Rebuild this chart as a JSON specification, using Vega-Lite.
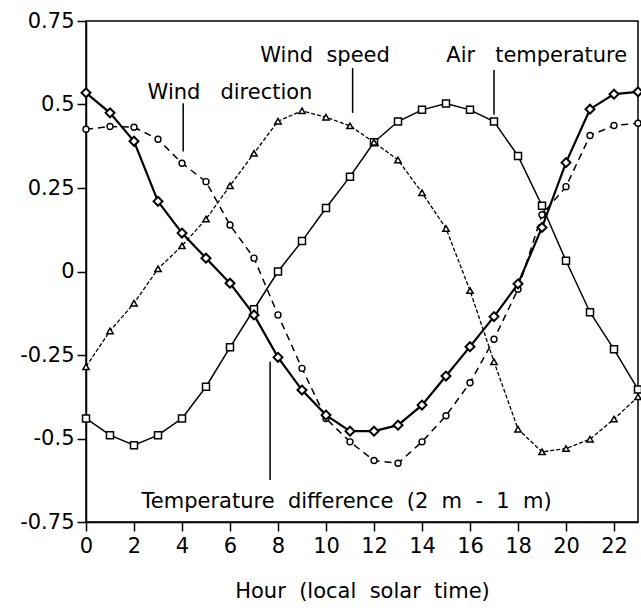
{
  "$schema": "https://vega.github.io/schema/vega-lite/v6.json",
  "autosize": "none",
  "width": 552,
  "height": 501,
  "padding": {"left": 86, "top": 21, "right": 3, "bottom": 90},
  "background": "white",
  "config": {
    "view": {"stroke": "black", "strokeWidth": 1.5},
    "font": "DejaVu Sans",
    "axis": {
      "labelFont": "DejaVu Sans", "titleFont": "DejaVu Sans",
      "labelFontSize": 21, "titleFontSize": 21, "labelColor": "black", "titleColor": "black",
      "titleFontWeight": "normal", "domainColor": "black", "domainWidth": 1.5,
      "tickColor": "black", "tickWidth": 1.5, "tickSize": 9, "grid": false, "labelFlush": false
    }
  },
  "datasets": {
    "series": [
      {"h":0,"s":"TD","v":0.535},{"h":1,"s":"TD","v":0.475},{"h":2,"s":"TD","v":0.39},{"h":3,"s":"TD","v":0.21},
      {"h":4,"s":"TD","v":0.115},{"h":5,"s":"TD","v":0.04},{"h":6,"s":"TD","v":-0.035},{"h":7,"s":"TD","v":-0.13},
      {"h":8,"s":"TD","v":-0.257},{"h":9,"s":"TD","v":-0.355},{"h":10,"s":"TD","v":-0.43},{"h":11,"s":"TD","v":-0.478},
      {"h":12,"s":"TD","v":-0.478},{"h":13,"s":"TD","v":-0.46},{"h":14,"s":"TD","v":-0.4},{"h":15,"s":"TD","v":-0.313},
      {"h":16,"s":"TD","v":-0.225},{"h":17,"s":"TD","v":-0.135},{"h":18,"s":"TD","v":-0.037},{"h":19,"s":"TD","v":0.132},
      {"h":20,"s":"TD","v":0.326},{"h":21,"s":"TD","v":0.486},{"h":22,"s":"TD","v":0.531},{"h":23,"s":"TD","v":0.538},
      {"h":0,"s":"AT","v":-0.44},{"h":1,"s":"AT","v":-0.49},{"h":2,"s":"AT","v":-0.52},{"h":3,"s":"AT","v":-0.49},
      {"h":4,"s":"AT","v":-0.44},{"h":5,"s":"AT","v":-0.345},{"h":6,"s":"AT","v":-0.227},{"h":7,"s":"AT","v":-0.113},
      {"h":8,"s":"AT","v":0.0},{"h":9,"s":"AT","v":0.091},{"h":10,"s":"AT","v":0.19},{"h":11,"s":"AT","v":0.284},
      {"h":12,"s":"AT","v":0.387},{"h":13,"s":"AT","v":0.449},{"h":14,"s":"AT","v":0.484},{"h":15,"s":"AT","v":0.503},
      {"h":16,"s":"AT","v":0.484},{"h":17,"s":"AT","v":0.449},{"h":18,"s":"AT","v":0.346},{"h":19,"s":"AT","v":0.197},
      {"h":20,"s":"AT","v":0.032},{"h":21,"s":"AT","v":-0.122},{"h":22,"s":"AT","v":-0.233},{"h":23,"s":"AT","v":-0.353},
      {"h":0,"s":"WS","v":-0.285},{"h":1,"s":"WS","v":-0.178},{"h":2,"s":"WS","v":-0.095},{"h":3,"s":"WS","v":0.008},
      {"h":4,"s":"WS","v":0.077},{"h":5,"s":"WS","v":0.157},{"h":6,"s":"WS","v":0.257},{"h":7,"s":"WS","v":0.354},
      {"h":8,"s":"WS","v":0.45},{"h":9,"s":"WS","v":0.481},{"h":10,"s":"WS","v":0.462},{"h":11,"s":"WS","v":0.436},
      {"h":12,"s":"WS","v":0.387},{"h":13,"s":"WS","v":0.334},{"h":14,"s":"WS","v":0.236},{"h":15,"s":"WS","v":0.129},
      {"h":16,"s":"WS","v":-0.057},{"h":17,"s":"WS","v":-0.27},{"h":18,"s":"WS","v":-0.472},{"h":19,"s":"WS","v":-0.54},
      {"h":20,"s":"WS","v":-0.53},{"h":21,"s":"WS","v":-0.502},{"h":22,"s":"WS","v":-0.442},{"h":23,"s":"WS","v":-0.375},
      {"h":0,"s":"WD","v":0.426},{"h":1,"s":"WD","v":0.434},{"h":2,"s":"WD","v":0.432},{"h":3,"s":"WD","v":0.396},
      {"h":4,"s":"WD","v":0.324},{"h":5,"s":"WD","v":0.269},{"h":6,"s":"WD","v":0.139},{"h":7,"s":"WD","v":0.04},
      {"h":8,"s":"WD","v":-0.13},{"h":9,"s":"WD","v":-0.29},{"h":10,"s":"WD","v":-0.44},{"h":11,"s":"WD","v":-0.51},
      {"h":12,"s":"WD","v":-0.566},{"h":13,"s":"WD","v":-0.574},{"h":14,"s":"WD","v":-0.51},{"h":15,"s":"WD","v":-0.432},
      {"h":16,"s":"WD","v":-0.333},{"h":17,"s":"WD","v":-0.203},{"h":18,"s":"WD","v":-0.053},{"h":19,"s":"WD","v":0.17},
      {"h":20,"s":"WD","v":0.254},{"h":21,"s":"WD","v":0.407},{"h":22,"s":"WD","v":0.437},{"h":23,"s":"WD","v":0.444}
    ],
    "labels": [
      {"h":9.96,"v":0.627,"t":"Wind\u00a0\u00a0speed"},
      {"h":18.78,"v":0.627,"t":"Air\u00a0\u00a0\u00a0temperature"},
      {"h":6.0,"v":0.516,"t":"Wind\u00a0\u00a0\u00a0direction"},
      {"h":10.86,"v":-0.709,"t":"Temperature\u00a0\u00a0difference\u00a0\u00a0(2\u00a0\u00a0m\u00a0\u00a0-\u00a0\u00a01\u00a0\u00a0m)"}
    ],
    "leaders": [
      {"h":11.11,"v1":0.609,"v2":0.475},
      {"h":17.0,"v1":0.603,"v2":0.469},
      {"h":4.05,"v1":0.504,"v2":0.359},
      {"h":7.67,"v1":-0.27,"v2":-0.624}
    ]
  },
  "encoding": {
    "x": {"field": "h", "type": "quantitative",
      "scale": {"domain": [0, 23], "nice": false, "zero": false},
      "axis": {"values": [0,2,4,6,8,10,12,14,16,18,20,22], "labelPadding": 4, "title": "Hour\u00a0\u00a0(local\u00a0\u00a0solar\u00a0\u00a0time)", "titlePadding": 24}},
    "y": {"field": "v", "type": "quantitative",
      "scale": {"domain": [-0.75, 0.75], "nice": false, "zero": false},
      "axis": {"values": [-0.75,-0.5,-0.25,0,0.25,0.5,0.75], "labelPadding": 3, "title": null,
        "labelExpr": "replace(format(datum.value, '~g'), '\u2212', '-')"}}
  },
  "layer": [
    {"data": {"name": "series"}, "transform": [{"filter": "datum.s == 'AT'"}],
     "mark": {"type": "line", "color": "black", "strokeWidth": 1.5}},
    {"data": {"name": "series"}, "transform": [{"filter": "datum.s == 'WS'"}],
     "mark": {"type": "line", "color": "black", "strokeWidth": 1.3, "strokeDash": [4, 2]}},
    {"data": {"name": "series"}, "transform": [{"filter": "datum.s == 'WD'"}],
     "mark": {"type": "line", "color": "black", "strokeWidth": 1.5, "strokeDash": [7, 5]}},
    {"data": {"name": "series"}, "transform": [{"filter": "datum.s == 'TD'"}],
     "mark": {"type": "line", "color": "black", "strokeWidth": 2.2}},
    {"data": {"name": "series"}, "transform": [{"filter": "datum.s == 'AT'"}],
     "mark": {"type": "point", "shape": "square", "size": 49, "filled": true, "fill": "white", "stroke": "black", "strokeWidth": 1.5, "opacity": 1}},
    {"data": {"name": "series"}, "transform": [{"filter": "datum.s == 'WS'"}],
     "mark": {"type": "point", "shape": "triangle-up", "size": 40, "filled": true, "fill": "white", "stroke": "black", "strokeWidth": 1.5, "opacity": 1}},
    {"data": {"name": "series"}, "transform": [{"filter": "datum.s == 'WD'"}],
     "mark": {"type": "point", "shape": "circle", "size": 36, "filled": true, "fill": "white", "stroke": "black", "strokeWidth": 1.4, "opacity": 1}},
    {"data": {"name": "series"}, "transform": [{"filter": "datum.s == 'TD'"}],
     "mark": {"type": "point", "shape": "diamond", "size": 80, "filled": true, "fill": "white", "stroke": "black", "strokeWidth": 2, "opacity": 1}},
    {"data": {"name": "leaders"},
     "mark": {"type": "rule", "color": "black", "strokeWidth": 1.5},
     "encoding": {"x": {"field": "h", "type": "quantitative"}, "y": {"field": "v1", "type": "quantitative"}, "y2": {"field": "v2"}}},
    {"data": {"name": "labels"},
     "mark": {"type": "text", "font": "DejaVu Sans", "fontSize": 21, "align": "center", "baseline": "alphabetic", "color": "black"},
     "encoding": {"text": {"field": "t"}}}
  ]
}
